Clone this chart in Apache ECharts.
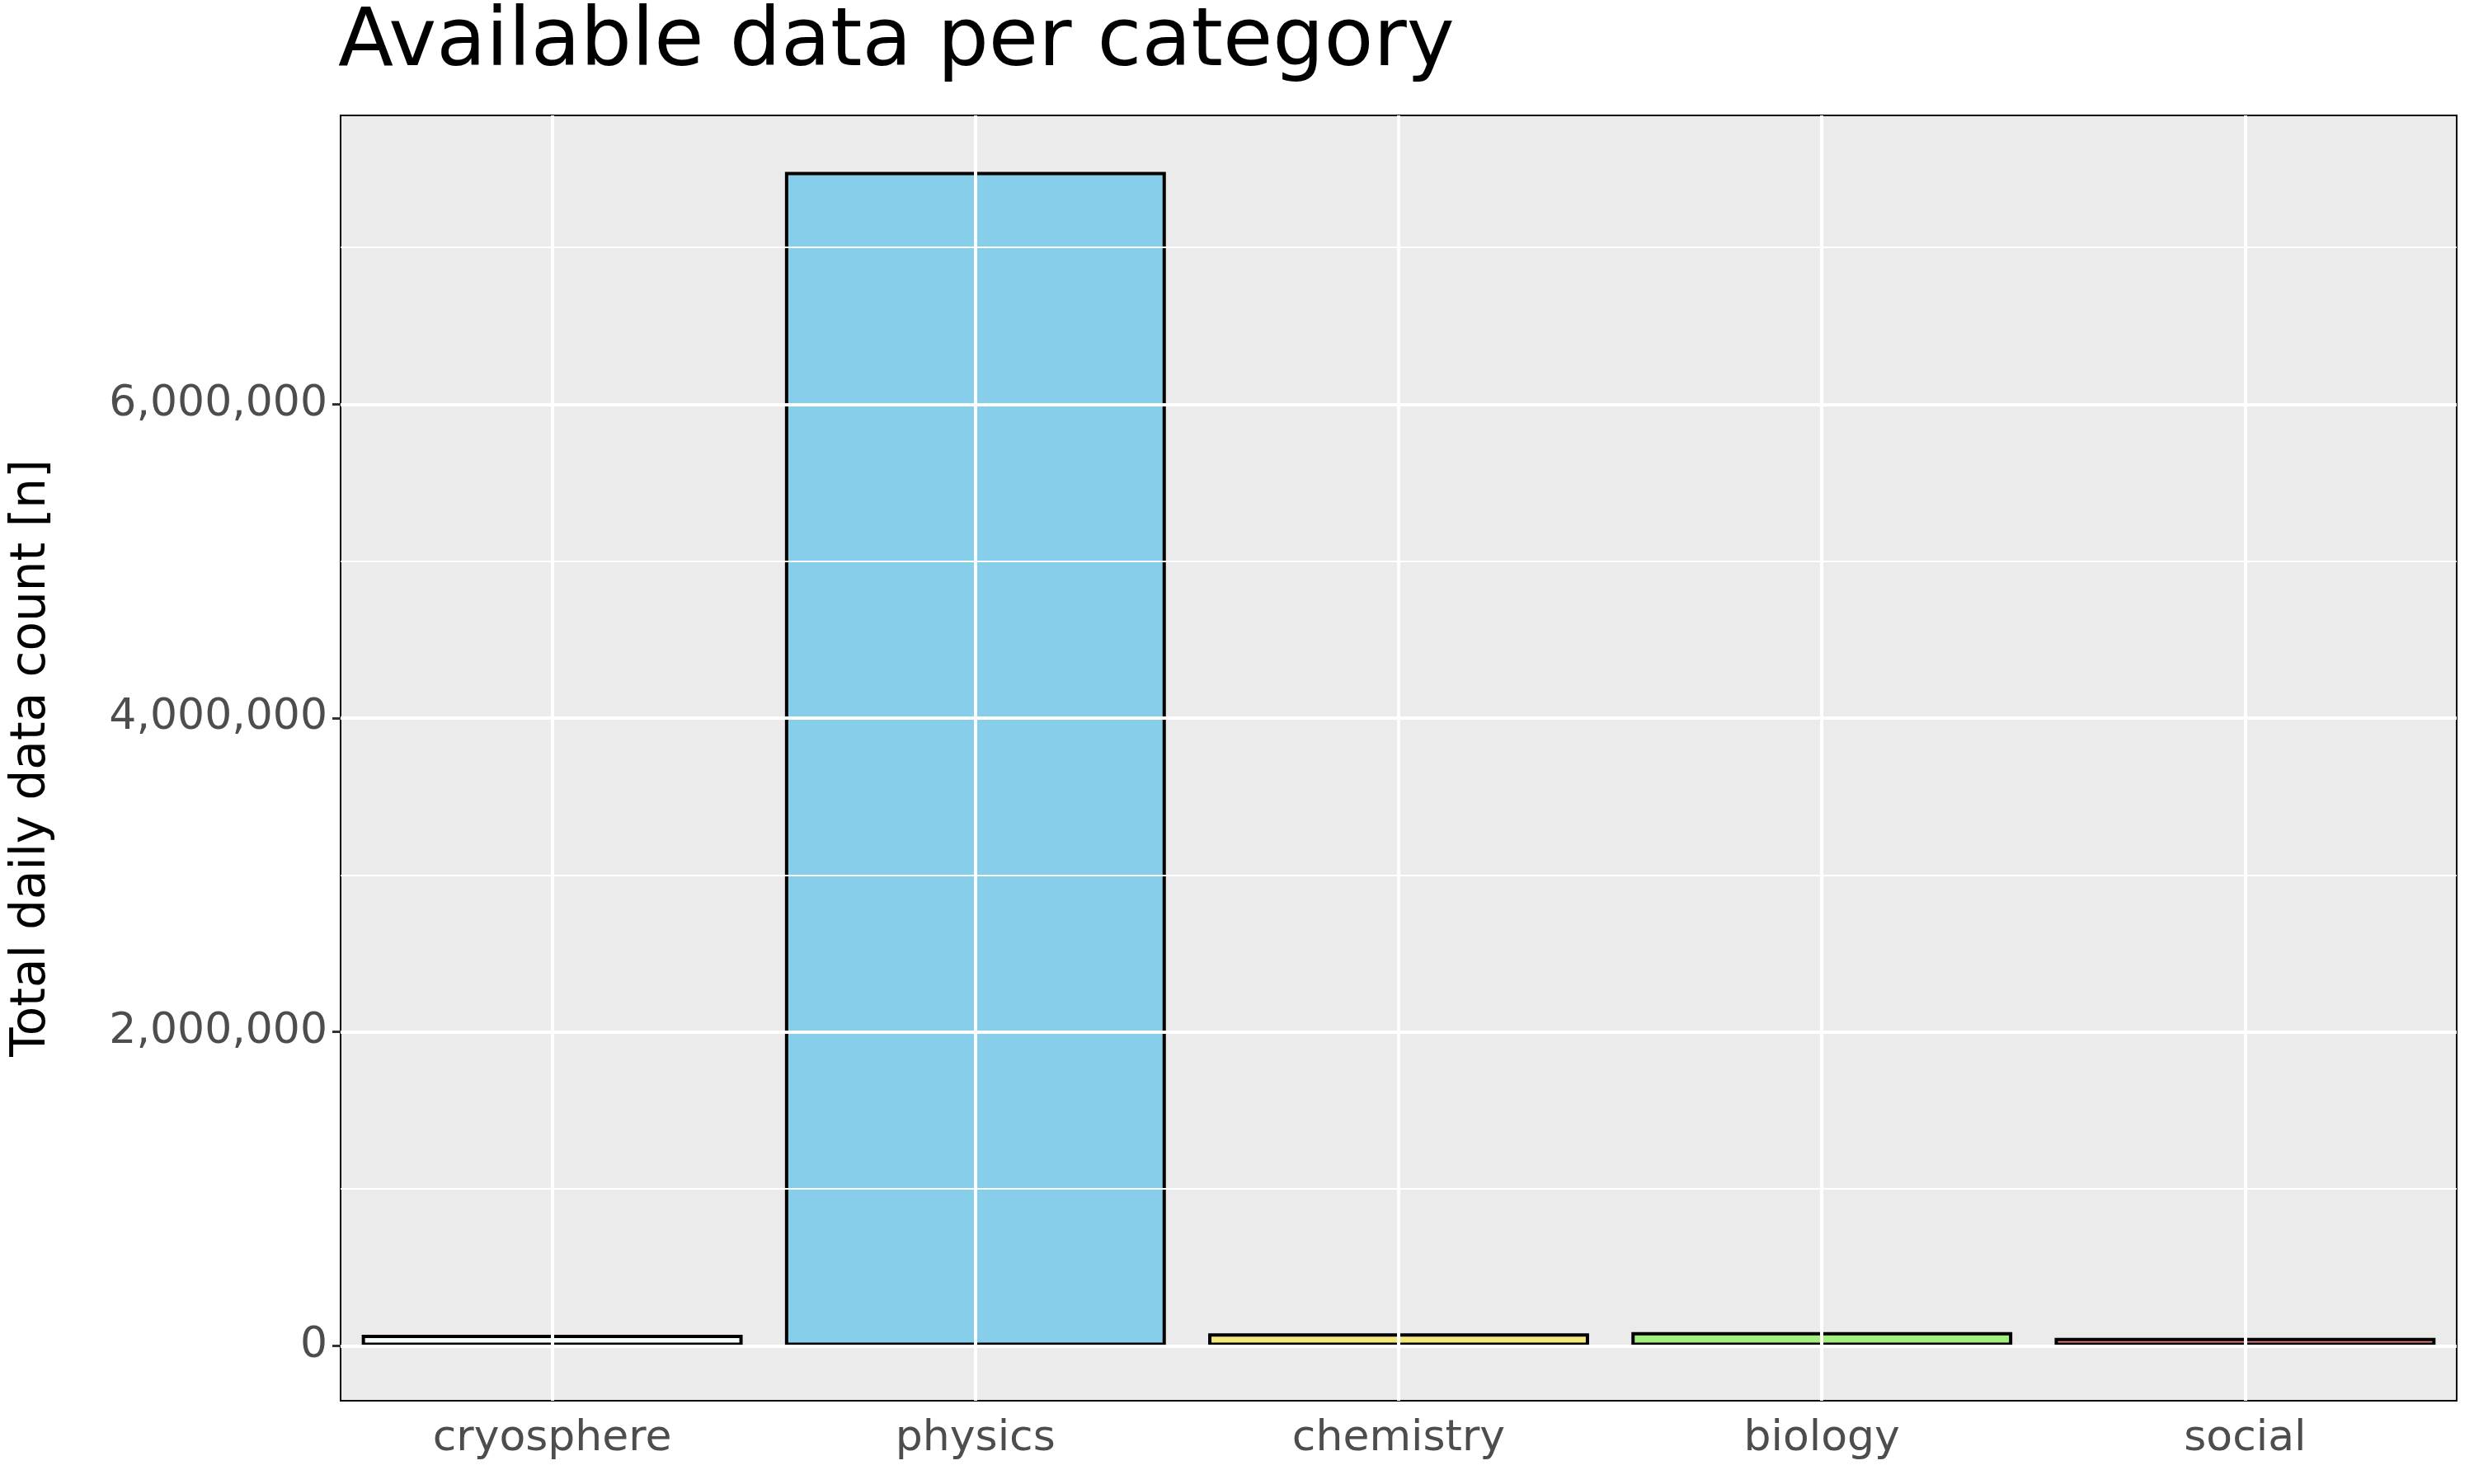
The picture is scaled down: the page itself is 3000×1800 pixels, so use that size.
<!DOCTYPE html>
<html>
<head>
<meta charset="utf-8">
<script src="https://cdn.jsdelivr.net/npm/echarts@6/dist/echarts.min.js"></script>
<style>html,body{margin:0;padding:0;background:#fff}#main{width:3000px;height:1800px}</style>
</head>
<body>
<div id="main"></div>
<script>
var categories = ['cryosphere', 'physics', 'chemistry', 'biology', 'social'];
var counts = [70000, 7480000, 80000, 88000, 51000];
var barColors = ['#F5FFFA', '#87CEEB', '#F5E87A', '#A3EE80', '#F08080'];
var majorTicks = [0, 2000000, 4000000, 6000000];
var minorTicks = [1000000, 3000000, 5000000, 7000000];

var chart = echarts.init(document.getElementById('main'));
var font = 'DejaVu Sans';

var gridLines = [];
majorTicks.forEach(function (v) { gridLines.push({ yAxis: v, lineStyle: { color: '#fff', width: 4, type: 'solid' } }); });
minorTicks.forEach(function (v) { gridLines.push({ yAxis: v, lineStyle: { color: '#fff', width: 2, type: 'solid' } }); });
categories.forEach(function (c) { gridLines.push({ xAxis: c, lineStyle: { color: '#fff', width: 4, type: 'solid' } }); });

chart.setOption({
  animation: false,
  title: {
    text: 'Available data per category',
    left: 405, top: 0,
    textStyle: { fontFamily: font, fontSize: 98, fontWeight: 'normal', color: '#000' }
  },
  grid: { left: 413, right: 21, top: 140, bottom: 101, backgroundColor: '#EBEBEB', show: true, borderColor: '#000', borderWidth: 2 },
  xAxis: {
    type: 'category',
    data: categories,
    axisLine: { show: false },
    axisTick: { show: true, alignWithLabel: true, length: 10, lineStyle: { color: '#333', width: 3 } },
    axisLabel: { fontFamily: font, fontSize: 52, color: '#4D4D4D', margin: 20 }
  },
  yAxis: {
    type: 'value',
    min: -350000, max: 7840000,
    name: 'Total daily data count [n]',
    nameLocation: 'middle', nameGap: 345,
    nameTextStyle: { fontFamily: font, fontSize: 58, color: '#000' },
    axisLine: { show: false },
    splitLine: { show: false },
    axisTick: { show: true, customValues: majorTicks, length: 10, lineStyle: { color: '#333', width: 3 } },
    axisLabel: {
      customValues: majorTicks,
      fontFamily: font, fontSize: 52, color: '#4D4D4D', margin: 16,
      formatter: function (v) { return v.toLocaleString('en-US'); }
    }
  },
  series: [
    {
      type: 'line', data: [], z: 1, silent: true,
      markLine: { silent: true, symbol: 'none', label: { show: false }, data: gridLines }
    },
    {
      type: 'bar', z: 3,
      data: counts.map(function (v, i) { return { value: v, itemStyle: { color: barColors[i] } }; }),
      barWidth: '90%',
      itemStyle: { borderColor: '#000', borderWidth: 4 }
    }
  ]
});
</script>
</body>
</html>
